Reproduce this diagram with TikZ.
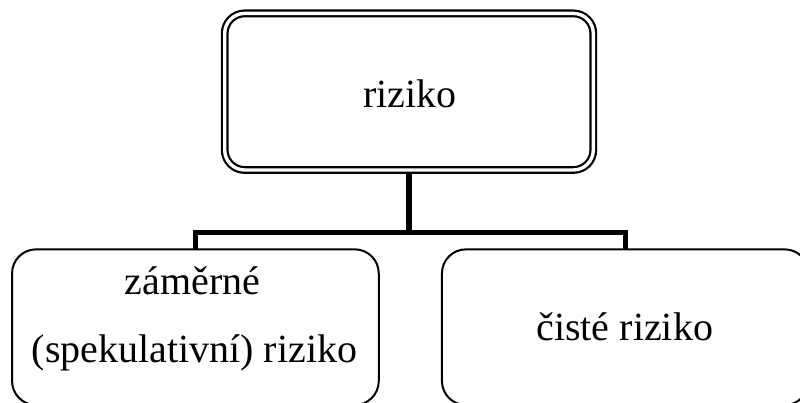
\documentclass[tikz,border=0pt]{standalone}
\usepackage{fontspec}
\setmainfont{Liberation Serif}
\usetikzlibrary{backgrounds}
\tikzset{
  rootbox/.style={draw, line width=2.2pt, double=white, double distance=3.4pt,
    fill=white, rounded corners=20pt, inner sep=0pt, outer sep=0pt,
    minimum width=368.6pt, minimum height=156.6pt},
  leafbox/.style={draw, line width=2pt, fill=white, rounded corners=24pt,
    inner sep=0pt, outer sep=0pt, minimum width=366.7pt, minimum height=155.7pt},
  lbl/.style={anchor=base, inner sep=0pt, font=\fontsize{40}{48}\selectfont},
  conn/.style={line width=5.5pt, line join=miter, line cap=butt},
}
\begin{document}
\begin{tikzpicture}[x=1pt,y=-1pt]
\useasboundingbox (0,0) rectangle (800,403);

% boxes
\node[rootbox] (root) at (409,91.7) {};
\node[leafbox] (spec) at (195.4,327.2) {};
\node[leafbox] (pure) at (625.3,327.2) {};

% labels
\node[lbl] (rootText) at (410,107.3) {riziko};
\node[lbl] (specTextA) at (192.5,294.5) {záměrné};
\node[lbl] (specTextB) at (194.5,362.7) {(spekulativní) riziko};
\node[lbl] (pureText) at (624.7,340.7) {čisté riziko};

% connectors behind the boxes
\coordinate (bar) at (409,232.7);
\begin{scope}[on background layer]
  \fill[white] (0,0) rectangle (800,403);
  \draw[conn] (root.south) -- (bar);
  \draw[conn] (spec.north) |- (bar) -| (pure.north);
\end{scope}
\end{tikzpicture}
\end{document}
